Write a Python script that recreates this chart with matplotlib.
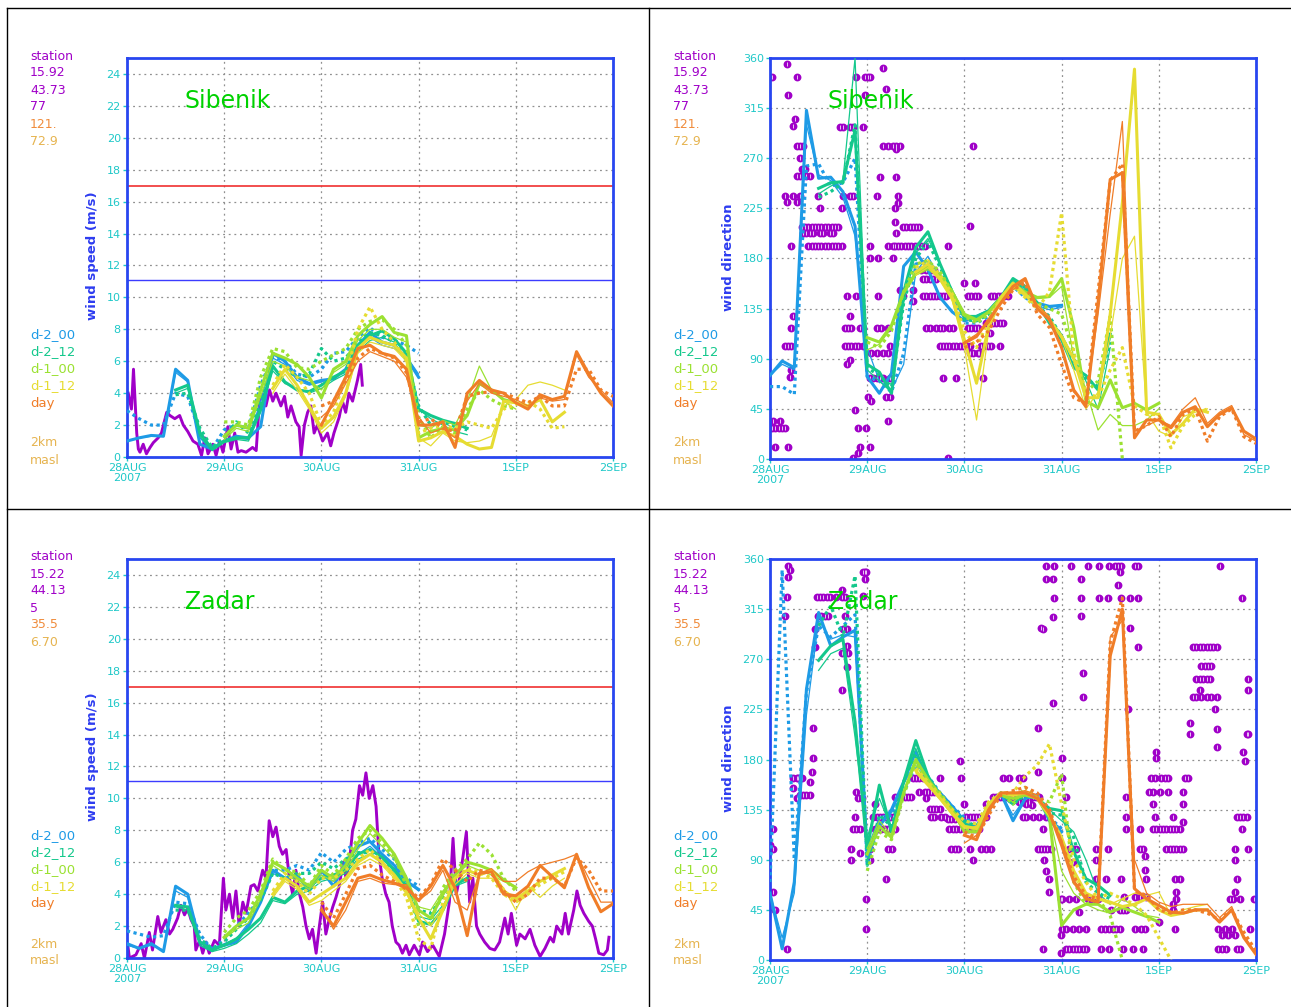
import numpy as np
import matplotlib
matplotlib.use("Agg")
import matplotlib.pyplot as plt
from matplotlib.lines import Line2D

nan = np.nan

# forecast runs, 3-hourly values from the run start (hours after 28AUG 00)
run_names = ["d-2_00", "d-2_12", "d-1_00", "d-1_12", "day"]
run_start = [0, 12, 24, 36, 48]
day_labels = ["28AUG\n2007", "29AUG", "30AUG", "31AUG", "1SEP", "2SEP"]

sib_info = ["station", "15.92", "43.73", "77", "121.", "72.9"]
zad_info = ["station", "15.22", "44.13", "5", "35.5", "6.70"]

# ---- Sibenik wind speed: [thick, dotted, thin] per run
sib_spd_d2_00 = [
    [1.0, 1.2, 1.35, 1.3, 5.5, 4.8, 0.8, 0.5, 1.0, 1.3, 1.2, 1.9, 6.5, 6.0, 5.0, 4.6, 4.8, 4.9, 5.5, 7.0, 7.8, 7.2, 7.0, 6.2, 5.0],
    [2.9, 2.4, 2.0, 2.0, 4.0, 3.8, 1.5, 0.5, 1.7, 2.0, 1.8, 4.5, 6.3, 6.0, 5.2, 5.0, 5.5, 6.5, 6.6, 7.5, 8.1, 7.5, 7.3, 7.0, 6.5],
    [1.0, 1.2, 1.3, 1.3, 5.3, 4.7, 1.2, 0.4, 1.0, 1.2, 1.1, 3.5, 6.2, 5.8, 4.8, 4.5, 4.7, 5.0, 5.3, 6.8, 7.5, 7.0, 6.8, 6.3, 5.2]]
sib_spd_d2_12 = [
    [4.2, 4.5, 1.5, 0.5, 1.0, 1.2, 1.2, 3.0, 5.7, 4.7, 4.2, 4.1, 4.5, 5.0, 5.4, 7.0, 7.6, 7.9, 7.4, 6.5, 3.0, 2.6, 2.3, 2.1, 1.8],
    [3.9, 4.0, 1.8, 0.6, 1.2, 2.2, 1.5, 3.5, 6.0, 5.5, 5.0, 5.2, 6.8, 6.0, 6.2, 7.2, 7.8, 7.6, 7.2, 6.2, 3.2, 2.0, 2.2, 1.9, 1.7],
    [4.0, 4.3, 1.3, 0.4, 0.9, 1.1, 1.0, 2.8, 5.4, 4.6, 4.3, 4.0, 4.3, 4.8, 5.2, 6.6, 7.3, 7.5, 7.2, 6.0, 3.0, 2.4, 2.0, 1.6, 1.4]]
sib_spd_d1_00 = [
    [1.3, 2.0, 1.8, 4.2, 6.5, 6.2, 5.8, 5.0, 3.7, 5.5, 6.0, 7.6, 8.3, 8.8, 7.8, 7.6, 1.2, 1.6, 1.8, 1.7, 2.6, 4.6, 4.2, 3.6, 3.4],
    [2.2, 2.2, 2.0, 5.0, 6.8, 6.6, 5.6, 5.5, 6.0, 6.4, 6.8, 8.0, 8.5, 8.6, 8.0, 7.0, 2.5, 1.2, 1.9, 1.5, 3.0, 4.2, 3.6, 3.2, 3.0],
    [1.1, 1.8, 1.6, 3.8, 6.0, 5.7, 5.0, 4.8, 4.2, 5.3, 5.8, 7.3, 8.0, 8.0, 7.5, 7.2, 2.0, 1.8, 2.3, 2.0, 3.5, 5.7, 4.2, 3.5, 3.0]]
sib_spd_d1_12 = [
    [4.3, 5.5, 4.5, 3.2, 1.8, 2.5, 4.0, 6.8, 7.5, 7.2, 7.0, 6.2, 1.0, 1.2, 1.6, 1.3, 0.8, 0.5, 0.6, 3.5, 3.4, 3.2, 3.6, 2.2, 2.8],
    [4.5, 5.8, 5.0, 4.0, 2.0, 2.8, 5.0, 8.0, 9.4, 8.0, 7.2, 6.0, 1.5, 1.8, 2.0, 1.8, 2.2, 2.0, 1.8, 3.0, 3.3, 3.5, 3.0, 1.8, 1.9],
    [4.0, 5.2, 4.2, 3.0, 1.5, 2.2, 3.8, 6.5, 7.2, 7.0, 6.8, 6.0, 1.2, 0.7, 1.5, 1.0, 0.9, 1.0, 1.3, 3.2, 3.6, 4.5, 4.7, 4.5, 4.2]]
sib_spd_day = [
    [2.0, 3.5, 5.0, 6.8, 7.0, 6.5, 6.3, 5.5, 2.0, 2.0, 2.2, 0.6, 4.0, 4.8, 4.2, 4.0, 3.4, 3.0, 3.9, 3.6, 3.8, 6.6, 5.2, 4.0, 3.2],
    [3.2, 3.5, 4.8, 6.2, 6.8, 6.5, 6.2, 5.3, 2.2, 2.4, 1.8, 1.6, 3.8, 4.0, 4.1, 4.0, 3.7, 3.4, 3.8, 3.2, 3.2, 5.5, 5.5, 4.2, 3.8],
    [2.5, 3.2, 4.6, 6.0, 6.6, 6.3, 6.0, 5.0, 2.5, 1.5, 1.8, 1.2, 3.5, 4.6, 4.0, 3.8, 3.6, 3.2, 3.7, 3.5, 3.6, 6.4, 5.0, 4.2, 3.4]]

sib_spd_obs_h = [0.3, 1.1, 1.6, 2.0, 2.4, 2.8, 3.2, 4.0, 4.8, 5.7, 6.5, 7.7, 8.5, 9.8, 10.6, 11.8, 13.0, 13.9, 15.0, 16.3,
                 17.5, 18.4, 19.2, 20.0, 21.2, 22.0, 22.9, 23.7, 24.9, 25.7, 26.6, 27.4, 28.2, 29.4, 31.0, 31.9, 32.7, 33.5, 34.3, 35.2,
                 36.0, 36.8, 38.0, 38.9, 39.7, 40.5, 41.7, 42.5, 43.0, 43.8, 44.6, 45.4, 46.2, 47.0, 48.3, 49.5, 50.3, 51.1, 52.4, 53.2,
                 54.0, 54.8, 55.7, 56.9, 57.7, 58.1]
sib_spd_obs_v = [4.0, 3.0, 5.5, 3.5, 1.5, 0.5, 0.3, 0.8, 0.2, 0.6, 0.9, 1.2, 1.5, 2.8, 2.6, 2.4, 2.6, 2.0, 1.6, 1.0,
                 0.8, 0.1, 1.2, 0.2, 0.8, 0.1, 1.0, 0.3, 1.9, 0.5, 1.5, 0.3, 0.4, 0.3, 0.6, 0.4, 3.5, 3.9, 3.2, 4.2,
                 3.5, 4.0, 3.2, 3.8, 2.5, 3.2, 2.2, 1.9, 0.1, 2.0, 2.8, 3.2, 1.5, 2.0, 1.0, 1.5, 0.7, 1.5, 2.5, 3.5,
                 2.8, 4.0, 3.5, 4.8, 5.8, 4.5]

# ---- Zadar wind speed
zad_spd_d2_00 = [
    [0.9, 0.6, 0.9, 0.4, 4.5, 4.0, 1.0, 0.6, 0.8, 1.0, 2.0, 3.5, 5.5, 5.0, 5.2, 4.2, 5.5, 4.5, 6.0, 7.0, 7.3, 6.5, 5.8, 4.8, 4.3],
    [1.7, 1.5, 1.3, 1.4, 3.5, 3.4, 1.5, 0.5, 1.2, 2.0, 2.8, 3.8, 5.5, 5.5, 5.8, 5.5, 6.6, 6.0, 6.8, 7.2, 7.5, 6.8, 6.2, 5.0, 4.5],
    [0.8, 0.6, 0.8, 0.5, 4.2, 3.8, 0.8, 0.4, 0.9, 1.2, 2.2, 3.5, 5.3, 5.0, 5.0, 4.5, 5.2, 4.8, 5.8, 6.5, 7.0, 6.3, 5.6, 4.8, 4.2]]
zad_spd_d2_12 = [
    [3.3, 3.2, 1.0, 0.5, 0.8, 1.2, 1.8, 2.5, 3.8, 3.5, 4.2, 4.5, 5.0, 5.2, 5.5, 6.5, 6.8, 6.3, 5.5, 4.5, 2.3, 2.1, 3.0, 4.6, 5.0],
    [3.0, 3.0, 1.2, 0.6, 1.0, 1.8, 2.5, 3.6, 5.3, 5.0, 5.3, 5.3, 6.0, 5.6, 6.2, 6.6, 6.6, 6.0, 5.5, 4.6, 3.0, 2.8, 3.8, 4.8, 5.0],
    [3.2, 3.0, 0.8, 0.4, 0.6, 0.9, 1.5, 2.2, 3.6, 3.4, 4.0, 4.2, 4.8, 5.0, 5.3, 6.2, 6.5, 6.0, 5.3, 4.3, 2.6, 2.4, 3.3, 4.5, 4.8]]
zad_spd_d1_00 = [
    [1.3, 2.0, 2.5, 4.0, 6.0, 5.6, 5.0, 4.5, 5.5, 5.0, 5.8, 7.2, 8.3, 7.5, 6.5, 5.0, 3.0, 2.5, 4.0, 5.2, 6.0, 5.8, 5.5, 4.9, 4.4],
    [1.6, 2.5, 3.0, 4.2, 6.2, 5.5, 5.4, 4.5, 5.8, 5.2, 6.2, 7.5, 8.0, 7.2, 6.4, 4.5, 2.0, 2.2, 4.4, 5.5, 6.2, 7.2, 6.5, 5.0, 4.2],
    [1.2, 1.8, 2.2, 3.7, 5.8, 5.3, 4.8, 4.3, 5.2, 4.8, 5.5, 6.8, 7.8, 7.0, 6.2, 4.8, 3.2, 3.0, 4.2, 5.2, 5.8, 5.5, 5.2, 4.8, 4.5]]
zad_spd_d1_12 = [
    [4.0, 5.0, 4.5, 3.5, 4.0, 4.5, 5.0, 6.0, 6.5, 6.0, 5.2, 4.2, 2.5, 1.2, 3.0, 5.0, 5.5, 5.2, 5.5, 4.2, 3.7, 4.2, 4.8, 5.2, 5.6],
    [4.2, 5.3, 4.8, 4.0, 5.0, 5.0, 5.5, 6.2, 6.8, 6.0, 5.0, 3.8, 1.2, 0.6, 3.5, 5.0, 5.6, 5.4, 5.0, 4.0, 3.5, 4.0, 4.6, 5.0, 5.4],
    [3.8, 4.8, 4.3, 3.3, 3.6, 4.2, 4.8, 5.8, 6.2, 5.8, 5.0, 4.0, 2.8, 2.0, 3.2, 4.6, 5.3, 5.0, 5.0, 4.4, 3.0, 4.5, 3.8, 4.5, 5.0]]
zad_spd_day = [
    [3.0, 2.0, 3.5, 5.0, 5.2, 4.9, 4.7, 4.4, 3.6, 4.5, 5.8, 4.4, 1.4, 5.3, 5.4, 4.0, 3.9, 4.5, 5.8, 5.1, 4.4, 6.5, 4.4, 2.9, 3.4],
    [3.5, 2.5, 4.0, 5.6, 5.8, 5.2, 4.8, 4.3, 3.8, 4.6, 6.2, 5.5, 4.8, 5.5, 5.3, 4.2, 3.5, 4.0, 5.0, 5.0, 4.5, 6.3, 5.5, 4.2, 4.2],
    [3.2, 1.8, 3.0, 4.8, 5.0, 4.7, 4.6, 4.6, 3.6, 4.2, 5.5, 3.5, 3.0, 5.3, 5.6, 4.8, 4.8, 5.4, 5.8, 6.0, 6.2, 6.5, 5.0, 3.5, 3.5]]

zad_spd_obs_h = [0.2, 0.6, 2.2, 3.5, 4.3, 5.5, 6.3, 7.6, 8.4, 9.6, 10.5, 11.3, 12.5, 13.3, 14.2, 15.0, 15.8, 16.6, 17.0, 17.9,
                 18.7, 19.5, 20.3, 21.6, 22.8, 23.8, 24.4, 25.3, 26.1, 26.9, 27.7, 28.6, 29.4, 30.6, 31.4, 32.3, 33.5, 34.3, 35.1, 36.0,
                 36.8, 37.6, 38.4, 39.3, 40.1, 40.9, 41.7, 42.6, 43.4, 44.2, 45.0, 45.8, 46.7, 47.5, 48.3, 49.1, 50.0, 50.8, 51.6, 52.4,
                 53.3, 54.1, 54.9, 55.7, 56.5, 57.4, 58.2, 59.0, 59.8, 60.7, 61.5, 62.2, 63.0, 63.9, 64.7, 65.5, 66.4, 67.2, 68.0, 68.9,
                 69.7, 70.9, 72.2, 73.0, 74.2, 75.5, 77.1, 78.4, 79.6, 80.5, 81.3, 82.5, 83.8, 84.6, 85.4, 86.3, 87.1, 88.3, 89.6, 90.8,
                 92.0, 93.3, 94.1, 94.9, 96.2, 97.0, 98.3, 99.5, 100.7, 102.0, 103.2, 104.5, 105.3, 106.1, 107.4, 108.2, 109.0, 110.3,
                 111.1, 111.9, 112.8, 114.0, 114.9, 115.7, 116.5, 117.7, 118.6, 119.0]
zad_spd_obs_v = [0.8, 0.0, 0.2, 0.9, 0.0, 1.6, 0.5, 2.6, 1.6, 2.4, 1.5, 1.8, 2.5, 3.3, 2.7, 3.1, 2.4, 2.0, 0.5, 1.1,
                 0.3, 1.0, 0.3, 1.1, 0.8, 5.0, 3.0, 4.0, 2.5, 4.2, 2.0, 3.5, 2.8, 4.5, 4.6, 4.2, 5.5, 5.0, 8.6, 7.6,
                 8.2, 7.0, 6.5, 6.8, 5.0, 4.0, 5.5, 4.0, 3.2, 2.0, 1.2, 1.8, 0.3, 2.0, 3.5, 1.5, 2.5, 3.2, 3.8, 4.5,
                 6.0, 5.0, 6.0, 8.0, 8.7, 10.8, 10.2, 11.6, 10.0, 10.8, 9.5, 6.5, 5.0, 4.0, 3.5, 2.0, 1.0, 0.8, 0.3, 0.8,
                 0.2, 0.8, 0.2, 1.0, 0.4, 0.8, 0.1, 1.5, 3.5, 7.5, 4.0, 5.5, 7.9, 3.5, 5.0, 2.0, 1.5, 1.0, 0.6, 0.5,
                 1.0, 2.5, 1.5, 2.8, 0.8, 1.5, 1.2, 1.8, 0.8, 0.1, 0.6, 1.3, 1.0, 2.0, 1.5, 2.8, 1.5, 3.0,
                 4.2, 3.3, 2.8, 2.3, 2.0, 1.2, 0.3, 0.2, 0.5, 1.3]

# ---- Sibenik wind direction
sib_dir_d2_00 = [
    [75, 88, 82, 313, 252, 253, 240, 209, 74, 59, 77, 173, 186, 170, 145, 132, 124, 128, 133, 145, 160, 150, 140, 137, 138],
    [65, 65, 58, 263, 265, 245, 248, 270, 74, 70, 60, 95, 175, 178, 165, 148, 122, 122, 128, 142, 155, 145, 138, 135, 138],
    [75, 85, 80, 300, 255, 250, 235, 200, 100, 70, 62, 85, 168, 182, 162, 145, 125, 126, 133, 142, 156, 148, 138, 134, 136]]
sib_dir_d2_12 = [
    [243, 248, 249, 295, 85, 78, 59, 150, 190, 204, 175, 150, 128, 128, 133, 145, 162, 155, 140, 122, 107, 82, 75, 62, 112],
    [235, 240, 248, 300, 82, 75, 65, 140, 180, 195, 172, 150, 125, 124, 130, 143, 158, 152, 138, 128, 110, 88, 72, 65, 105],
    [238, 245, 250, 360, 80, 70, 60, 140, 185, 198, 175, 148, 126, 126, 132, 145, 160, 153, 138, 126, 112, 90, 70, 45, 100]]
sib_dir_d1_00 = [
    [109, 105, 120, 150, 167, 172, 165, 150, 130, 125, 132, 145, 157, 150, 145, 146, 162, 118, 52, 46, 71, 46, 50, 44, 50],
    [105, 100, 115, 150, 175, 178, 168, 150, 128, 122, 130, 143, 155, 148, 140, 135, 130, 95, 60, 70, 128, 0, nan, nan, nan],
    [98, 103, 118, 148, 165, 170, 163, 148, 128, 124, 131, 144, 156, 150, 144, 145, 155, 90, 62, 26, 40, 30, 30, 35, 45]]
sib_dir_d1_12 = [
    [168, 175, 162, 145, 107, 68, 120, 145, 158, 148, 138, 125, 110, 90, 55, 55, 130, 230, 350, 42, 40, 22, 32, 45, 42],
    [172, 178, 165, 148, 115, 100, 125, 145, 155, 145, 135, 150, 221, 95, 60, 55, 80, 100, 48, 40, 40, 10, 30, 40, 45],
    [165, 172, 160, 142, 100, 35, 115, 143, 155, 146, 136, 125, 108, 80, 45, 60, 110, 180, 200, 42, 25, 20, 38, 42, 45]]
sib_dir_day = [
    [104, 110, 125, 140, 155, 162, 135, 125, 100, 62, 47, 140, 251, 257, 19, 35, 35, 28, 42, 47, 29, 40, 46, 25, 18],
    [100, 105, 115, 135, 152, 158, 130, 118, 85, 55, 50, 150, 250, 265, 25, 30, 38, 20, 40, 45, 16, 38, 45, 20, 14],
    [105, 112, 122, 140, 152, 160, 138, 128, 100, 60, 50, 130, 220, 303, 25, 30, 35, 30, 45, 55, 32, 42, 48, 22, 16]]

sib_dir_obs = [
    (0.4, 343), (0.4, 28), (1.2, 28), (2.1, 28), (2.9, 28), (3.7, 28), (0.8, 34), (2.5, 34), (1.2, 11), (4.5, 11),
    (4.1, 355), (4.5, 327), (3.7, 236), (4.1, 231), (5.7, 236), (6.6, 231), (7.4, 236), (5.3, 191), (4.9, 74), (5.3, 80),
    (3.7, 101), (4.5, 101), (5.3, 101), (5.3, 118), (5.7, 128), (6.2, 305), (5.7, 299), (6.6, 281), (7.4, 281), (8.2, 281),
    (7.4, 270), (6.6, 254), (7.4, 254), (8.2, 254), (9.0, 254), (9.9, 254), (7.8, 260), (8.6, 260), (6.6, 343),
    (7.8, 208), (8.6, 208), (9.4, 208), (10.3, 208), (11.1, 208), (11.9, 208), (12.7, 208), (13.5, 208), (14.4, 208),
    (15.2, 208), (16.0, 208), (16.8, 208), (8.2, 203), (9.0, 203), (9.9, 203), (10.7, 203), (12.3, 203), (13.1, 203),
    (14.8, 203), (15.6, 203), (9.4, 191), (10.3, 191), (11.1, 191), (11.9, 191), (12.7, 191), (13.5, 191), (14.4, 191),
    (15.2, 191), (16.0, 191), (16.8, 191), (17.7, 191),
    (12.3, 225), (11.9, 236), (17.7, 225), (18.1, 236), (19.7, 236), (20.5, 236), (17.2, 298), (18.1, 298), (19.7, 298),
    (20.5, 298), (21.3, 343), (23.4, 343), (24.2, 343), (24.6, 343), (27.9, 351), (28.7, 332), (23.0, 298), (23.4, 327),
    (18.9, 146), (21.3, 146), (19.7, 128), (18.5, 118), (19.3, 118), (20.1, 118), (22.2, 118), (23.0, 118), (18.5, 101),
    (19.3, 101), (20.1, 101), (20.9, 101), (21.8, 101), (23.0, 101), (19.7, 89), (18.9, 85), (20.9, 44), (21.8, 28),
    (23.8, 28), (22.2, 11), (21.8, 5), (20.5, 1), (24.6, 11), (24.2, 56), (25.0, 52), (24.6, 191), (24.6, 180), (26.7, 180),
    (30.4, 180), (25.0, 95), (26.3, 95), (27.9, 95), (24.6, 73), (25.5, 73), (26.3, 73), (27.1, 73), (27.9, 73), (29.6, 73),
    (26.3, 118), (27.5, 118), (29.1, 118), (26.7, 146), (27.1, 253), (26.3, 236), (27.9, 281), (29.1, 281), (30.4, 281),
    (31.2, 281), (32.0, 281), (31.2, 278), (31.2, 253), (31.6, 236), (31.6, 230), (30.8, 225), (30.8, 213), (31.2, 203),
    (29.1, 191), (30.4, 191), (28.7, 56), (29.6, 56), (29.1, 34), (29.6, 101), (29.1, 95),
    (30.8, 191), (31.6, 191), (32.4, 191), (33.3, 191), (34.1, 191), (34.9, 191), (35.7, 191), (36.5, 191), (37.4, 191),
    (38.2, 191), (32.8, 208), (33.7, 208), (34.5, 208), (35.3, 208), (36.1, 208), (36.9, 208), (32.0, 152), (35.3, 152),
    (32.8, 146), (35.3, 142), (37.4, 170), (38.6, 170), (39.8, 170), (40.6, 170), (37.8, 162), (38.6, 162), (39.4, 162),
    (40.2, 162), (41.1, 162), (37.8, 146), (38.6, 146), (39.4, 146), (40.2, 146), (41.1, 146), (41.9, 146), (42.7, 146),
    (43.5, 146), (38.6, 118), (39.4, 118), (41.1, 118), (41.9, 118), (42.7, 118), (44.3, 118), (45.2, 118),
    (41.9, 101), (42.7, 101), (43.5, 101), (44.3, 101), (45.2, 101), (46.0, 101), (46.8, 101), (47.6, 101), (48.4, 101),
    (49.3, 101), (42.7, 73), (46.0, 73), (43.9, 1), (43.9, 191), (48.0, 158), (48.9, 146), (49.7, 146), (50.5, 146),
    (51.3, 146), (49.3, 209), (50.1, 281), (48.9, 118), (49.7, 118), (50.5, 118), (51.3, 118), (49.3, 95), (50.1, 95),
    (51.3, 95), (51.7, 95), (52.1, 101), (52.9, 101), (53.8, 101), (54.6, 101), (56.7, 101), (50.5, 158), (52.5, 73),
    (53.4, 122), (54.2, 122), (55.0, 122), (55.8, 122), (56.7, 122), (57.5, 122), (54.6, 146), (55.4, 146), (56.2, 146),
    (57.1, 146), (57.9, 146), (58.7, 146), (54.2, 113)]

# ---- Zadar wind direction
zad_dir_d2_00 = [
    [60, 10, 70, 243, 312, 282, 290, 296, 95, 120, 135, 160, 187, 160, 150, 138, 125, 118, 135, 150, 125, 145, 148, 125, 115],
    [70, 350, 90, 240, 300, 290, 300, 310, 85, 125, 130, 150, 175, 165, 150, 138, 128, 120, 138, 148, 140, 150, 148, 128, 118],
    [60, 20, 60, 220, 305, 288, 292, 290, 100, 128, 132, 158, 178, 160, 150, 136, 124, 120, 138, 150, 130, 145, 147, 126, 118]]
zad_dir_d2_12 = [
    [269, 282, 288, 214, 100, 157, 115, 160, 197, 165, 148, 135, 122, 118, 140, 150, 140, 150, 145, 136, 134, 97, 73, 67, 58],
    [300, 318, 290, 345, 85, 130, 120, 160, 185, 160, 148, 135, 125, 120, 138, 150, 140, 148, 145, 132, 130, 110, 70, 60, 55],
    [260, 275, 280, 200, 110, 145, 118, 158, 190, 162, 147, 133, 122, 118, 138, 148, 142, 148, 146, 135, 125, 115, 90, 60, 50]]
zad_dir_d1_00 = [
    [95, 120, 110, 150, 180, 162, 148, 135, 115, 115, 138, 148, 145, 148, 145, 128, 31, 45, 50, 50, 43, 47, 43, 39, 34],
    [80, 115, 108, 148, 178, 160, 150, 135, 118, 115, 135, 150, 140, 155, 145, 142, 167, 70, 50, 55, 40, 0, nan, nan, nan],
    [100, 125, 112, 152, 175, 158, 146, 132, 115, 118, 140, 148, 142, 150, 145, 130, 80, 60, 50, 45, 42, 55, 48, 40, 38]]
zad_dir_d1_12 = [
    [170, 158, 145, 132, 120, 118, 140, 150, 148, 150, 145, 130, 110, 80, 60, 55, 52, 48, 50, 55, 45, 40, 42, 45, 45],
    [172, 160, 148, 135, 125, 122, 142, 150, 150, 165, 175, 194, 140, 90, 70, 55, 60, 55, 50, 40, 20, 0, nan, nan, nan],
    [168, 156, 144, 130, 118, 120, 140, 150, 147, 152, 148, 132, 105, 75, 58, 55, 50, 55, 60, 58, 61, 40, 45, 48, 50]]
zad_dir_day = [
    [112, 108, 135, 150, 150, 150, 145, 132, 103, 70, 55, 52, 273, 315, 64, 55, 49, 43, 42, 45, 45, 34, 45, 20, 5],
    [115, 110, 130, 148, 152, 155, 150, 135, 105, 75, 58, 55, 285, 325, 62, 58, 45, 42, 45, 45, 42, 36, 45, 25, 8],
    [105, 112, 132, 150, 150, 152, 148, 130, 108, 72, 56, 52, 290, 305, 90, 60, 52, 48, 50, 50, 50, 38, 48, 22, 6]]

zad_dir_obs = [
    (0.0, 103), (0.8, 118), (0.8, 100), (0.8, 61), (1.2, 45), (4.1, 10), (4.5, 354), (4.9, 350), (4.5, 344), (4.1, 326),
    (3.7, 309), (5.7, 163), (6.6, 163), (7.0, 163), (7.8, 163), (5.7, 154), (6.6, 145), (7.4, 148), (8.2, 148), (9.0, 148),
    (9.9, 148), (9.9, 160), (10.3, 169), (10.7, 181), (10.7, 208), (11.1, 281), (11.1, 297), (11.5, 326), (12.3, 326),
    (13.1, 326), (14.0, 326), (14.8, 326), (11.9, 309), (12.7, 309), (13.5, 309), (14.4, 309), (16.4, 326), (17.7, 326),
    (18.5, 326), (17.7, 332), (18.5, 309), (18.1, 297), (18.9, 297), (17.7, 276), (18.9, 282), (19.3, 276), (18.9, 263),
    (17.7, 242), (21.3, 151), (21.8, 145), (22.6, 145), (20.5, 118), (21.3, 118), (22.2, 118), (20.9, 128), (20.1, 100),
    (20.1, 90), (22.2, 96), (23.0, 348), (23.4, 348), (23.8, 348), (23.4, 342), (23.0, 327), (23.8, 55), (23.8, 28),
    (24.6, 90), (24.6, 100), (25.5, 128), (26.3, 128), (27.1, 128), (27.9, 128), (28.7, 128), (29.6, 128), (30.4, 128),
    (25.9, 118), (26.7, 118), (27.5, 118), (28.3, 118), (29.1, 118), (30.0, 118), (30.8, 118), (25.9, 140), (29.1, 100),
    (30.0, 100), (28.7, 73), (30.8, 146), (31.6, 146), (32.4, 146), (33.3, 146), (34.1, 146), (34.9, 146), (35.3, 163),
    (36.1, 163), (36.9, 163), (37.8, 163), (36.9, 151), (38.2, 151), (39.0, 151), (39.8, 151), (40.6, 151), (38.6, 145),
    (39.4, 136), (40.2, 136), (41.1, 136), (41.9, 136), (41.9, 163), (39.8, 128), (40.6, 128), (42.3, 128), (43.1, 128),
    (43.9, 127), (44.7, 127), (45.6, 127), (44.3, 118), (45.2, 118), (46.0, 118), (46.8, 118), (44.7, 100), (45.6, 100),
    (46.4, 100), (46.8, 179), (47.2, 163), (48.0, 140), (48.4, 128), (49.3, 128), (50.1, 128), (50.9, 128), (51.7, 128),
    (52.5, 128), (53.4, 128), (48.9, 118), (50.1, 118), (50.9, 118), (51.7, 118), (49.3, 100), (50.1, 90), (52.1, 100),
    (53.4, 100), (54.6, 100), (53.4, 140), (55.0, 146), (55.8, 146), (56.7, 146), (57.5, 146), (58.3, 146), (59.1, 146),
    (59.9, 146), (60.8, 146), (61.6, 146), (62.4, 146), (63.2, 146), (64.0, 146), (64.9, 146), (65.7, 146), (66.5, 146),
    (57.5, 163), (59.1, 163), (61.6, 163), (62.4, 163), (62.4, 128), (63.2, 128), (64.9, 128), (66.1, 208), (66.1, 169),
    (66.1, 100), (61.5, 142), (62.3, 142), (63.2, 140), (64.0, 142), (64.8, 139), (66.5, 128), (68.1, 128), (69.8, 231),
    (66.9, 298), (67.3, 118), (66.9, 100), (67.7, 100), (68.5, 100), (69.4, 100), (67.7, 90), (68.1, 80), (68.9, 73),
    (68.9, 61), (68.1, 354), (70.2, 354), (68.1, 342), (69.8, 342), (70.2, 325), (69.8, 308), (67.3, 297), (71.8, 55),
    (72.2, 55), (73.9, 55), (75.6, 55), (71.8, 22), (71.8, 6), (73.1, 10), (73.9, 10), (74.7, 10), (75.6, 10), (76.4, 10),
    (77.2, 10), (78.0, 10), (67.3, 10), (72.2, 28), (73.1, 28), (74.7, 28), (76.4, 28), (78.0, 28), (72.2, 181),
    (72.2, 163), (73.1, 146), (73.9, 100), (74.7, 100), (75.6, 100), (74.7, 88), (74.3, 354), (76.8, 342), (76.8, 325),
    (76.8, 309), (77.2, 258), (77.2, 236), (76.4, 43), (78.4, 55), (79.3, 55), (80.1, 55), (80.9, 55), (80.5, 100),
    (83.4, 100), (80.5, 90), (78.4, 354), (81.3, 354), (83.8, 354), (85.1, 354), (85.9, 354), (86.7, 354), (90.0, 354),
    (90.8, 354), (81.3, 325), (83.4, 325), (86.7, 325), (88.8, 325), (90.8, 325), (86.3, 348), (85.9, 337), (80.5, 73),
    (83.0, 73), (81.8, 28), (82.6, 28), (83.8, 28), (84.6, 28), (85.5, 28), (86.3, 28), (81.8, 10), (83.8, 10), (87.1, 10),
    (89.6, 10), (92.1, 10), (84.2, 45), (86.3, 45), (87.1, 45), (88.0, 45), (86.7, 73), (87.5, 57), (88.0, 146), (88.0, 128),
    (88.0, 118), (88.4, 225), (88.8, 298), (90.8, 281), (90.0, 57), (91.3, 57), (92.9, 57), (90.0, 28), (91.7, 28),
    (92.5, 28), (91.3, 118), (91.3, 100), (92.1, 100), (92.5, 93), (92.9, 73), (92.5, 81), (94.1, 163), (95.0, 163),
    (96.6, 163), (97.5, 163), (98.3, 163), (93.7, 151), (94.6, 151), (96.2, 151), (98.3, 151), (94.6, 140), (94.6, 118),
    (95.4, 118), (96.2, 118), (97.0, 118), (97.9, 118), (98.7, 118), (99.5, 118), (100.3, 118), (101.2, 118), (95.0, 128),
    (99.5, 128), (102.0, 124), (95.4, 187), (95.4, 181), (97.9, 100), (98.7, 100), (99.5, 100), (100.3, 100), (101.2, 100),
    (102.0, 100), (99.9, 73), (101.2, 73), (100.3, 61), (100.3, 55), (99.5, 50), (96.0, 34), (99.9, 28), (99.5, 45),
    (102.4, 163), (103.2, 163), (102.0, 151), (102.0, 140), (104.5, 281), (105.3, 281), (106.1, 281), (107.0, 281),
    (107.8, 281), (108.6, 281), (109.4, 281), (110.3, 281), (106.5, 264), (107.4, 264), (108.2, 264), (109.0, 264),
    (105.3, 252), (106.1, 252), (107.0, 252), (107.8, 252), (108.6, 252), (106.1, 242), (104.5, 236), (105.3, 236),
    (106.5, 236), (107.8, 236), (109.0, 236), (110.3, 236), (109.9, 225), (110.3, 207), (103.7, 213), (103.7, 203),
    (110.3, 191), (116.9, 187), (117.3, 179), (117.7, 203), (118.1, 203), (118.1, 252), (118.1, 242), (116.5, 325),
    (111.1, 354), (115.2, 128), (116.0, 128), (116.9, 128), (117.7, 128), (116.5, 118), (114.8, 100), (118.1, 100),
    (114.8, 90), (115.2, 73), (114.8, 61), (113.6, 55), (114.4, 55), (116.0, 55), (119.4, 55), (110.7, 28), (111.5, 22),
    (112.3, 28), (113.2, 22), (114.0, 28), (114.8, 22), (110.7, 10), (111.5, 10), (112.7, 10), (115.2, 10), (116.0, 10),
    (118.5, 28)]

W, H = 1291, 1007
PURPLE = "#a000c8"
CYAN = "#1ec8c8"
FRAME = "#2846f0"
run_colors = ["#1e9be6", "#14c88c", "#9be132", "#e6dc32", "#f07d28"]
info_colors = [PURPLE, PURPLE, PURPLE, PURPLE, "#f08c3c", "#e6b450"]

fig = plt.figure(figsize=(W / 100, H / 100), dpi=100)


def panel(box, kind, runs, title, info, obs_h, obs_v):
    left, top, right, bottom = box
    ax = fig.add_axes([left / W, 1 - bottom / H, (right - left) / W, (bottom - top) / H])
    ax.set_xlim(0, 120)
    if kind == "spd":
        ax.set_ylim(0, 25)
        ax.set_yticks(range(0, 25, 2))
        ax.axhline(17, color="#f03030", lw=1.2, zorder=2)
        ax.axhline(11.1, color="#3c3cff", lw=1.0, zorder=2)
        ax.plot(obs_h, obs_v, color=PURPLE, lw=2.1, zorder=2)
        ylab, ylx = "wind speed (m/s)", -0.072
    else:
        ax.set_ylim(0, 360)
        ax.set_yticks(range(0, 361, 45))
        ax.scatter(obs_h, obs_v, s=32, color=PURPLE, linewidths=0, zorder=2)
        ax.scatter(obs_h, obs_v, s=10, marker="|", color="#e8c8f4", linewidths=0.7, zorder=2)
        ylab, ylx = "wind direction", -0.086
    for i, run in enumerate(runs):
        for j, vals in enumerate(run):
            hrs = run_start[i] + 3 * np.arange(len(vals))
            if j == 0:
                ax.plot(hrs, vals, color=run_colors[i], lw=2.2, zorder=3)
            elif j == 1:
                ax.plot(hrs, vals, color=run_colors[i], lw=2.3, ls=(0, (1, 1.1)), zorder=3)
            else:
                ax.plot(hrs, vals, color=run_colors[i], lw=0.9, zorder=3)
    ax.set_xticks([0, 24, 48, 72, 96, 120])
    ax.set_xticklabels(day_labels, linespacing=1.0)
    ax.tick_params(colors=CYAN, labelsize=8, length=3, width=1, pad=1.5)
    ax.grid(True, color="#909090", ls=(0, (1.5, 3)), lw=0.9)
    ax.set_axisbelow(True)
    for sp in ax.spines.values():
        sp.set_color(FRAME)
        sp.set_linewidth(2)
    ax.text(0.119, 0.892, title, transform=ax.transAxes, color="#00d200", fontsize=17,
            va="center", ha="left", zorder=5)
    ax.text(ylx, 0.504, ylab, transform=ax.transAxes, rotation=90, color="#2d3cf0",
            fontweight="bold", fontsize=9.5, ha="center", va="center")

    col_x = (left - 97) / W
    for k, s in enumerate(info):
        fig.text(col_x, 1 - (top - 2 + 17 * k) / H, s, color=info_colors[k], fontsize=9, va="center")
    for k, name in enumerate(run_names):
        fig.text(col_x, 1 - (top + 277 + 17 * k) / H, name, color=run_colors[k], fontsize=9.5, va="center")
    fig.text(col_x, 1 - (top + 385) / H, "2km", color="#e6b450", fontsize=9, va="center")
    fig.text(col_x, 1 - (top + 402) / H, "masl", color="#e6b450", fontsize=9, va="center")
    return ax


sib_spd = [sib_spd_d2_00, sib_spd_d2_12, sib_spd_d1_00, sib_spd_d1_12, sib_spd_day]
zad_spd = [zad_spd_d2_00, zad_spd_d2_12, zad_spd_d1_00, zad_spd_d1_12, zad_spd_day]
sib_dir = [sib_dir_d2_00, sib_dir_d2_12, sib_dir_d1_00, sib_dir_d1_12, sib_dir_day]
zad_dir = [zad_dir_d2_00, zad_dir_d2_12, zad_dir_d1_00, zad_dir_d1_12, zad_dir_day]

panel((127, 58, 613, 457), "spd", sib_spd, "Sibenik", sib_info, sib_spd_obs_h, sib_spd_obs_v)
panel((770, 58, 1256, 459), "dir", sib_dir, "Sibenik", sib_info,
      [p[0] for p in sib_dir_obs], [p[1] for p in sib_dir_obs])
panel((127, 559, 613, 958), "spd", zad_spd, "Zadar", zad_info, zad_spd_obs_h, zad_spd_obs_v)
panel((770, 559, 1256, 960), "dir", zad_dir, "Zadar", zad_info,
      [p[0] for p in zad_dir_obs], [p[1] for p in zad_dir_obs])

# table frame lines
for xs, ys in [([7 / W, 7 / W], [0, 1 - 8 / H]),
               ([649 / W, 649 / W], [0, 1 - 8 / H]),
               ([7 / W, 1], [1 - 8 / H, 1 - 8 / H]),
               ([7 / W, 1], [1 - 509 / H, 1 - 509 / H])]:
    fig.add_artist(Line2D(xs, ys, color="black", lw=1))

fig.savefig("out.png", dpi=100)
